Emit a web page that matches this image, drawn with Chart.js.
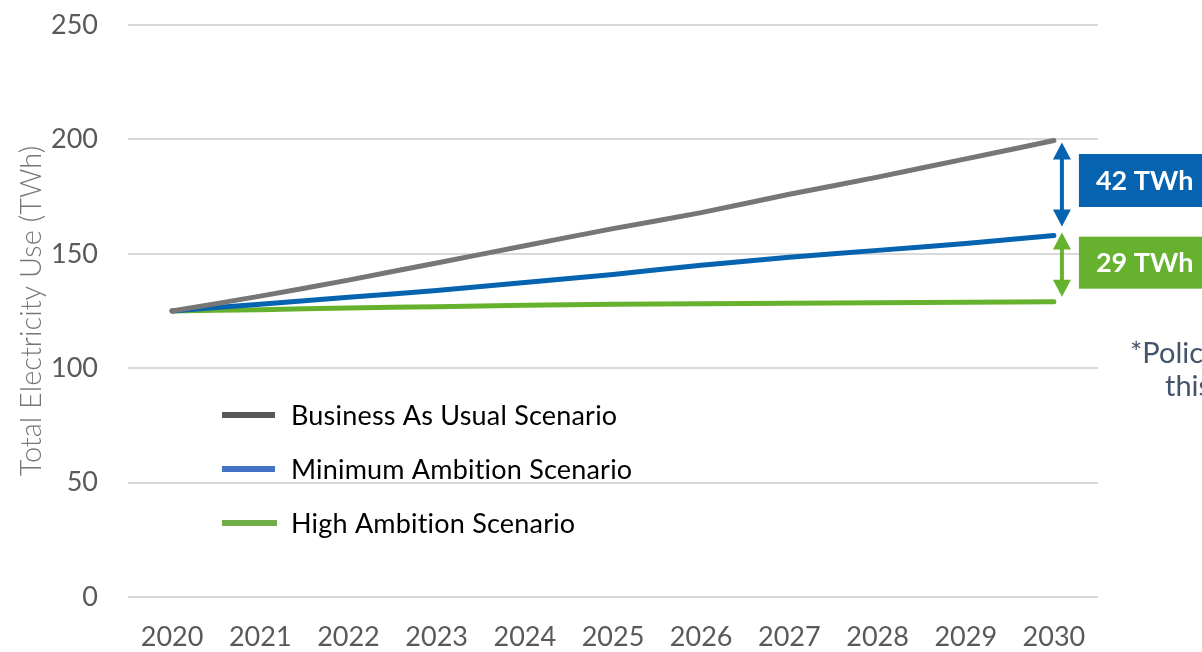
<!DOCTYPE html>
<html>
<head>
<meta charset="utf-8">
<script src="https://cdn.jsdelivr.net/npm/chart.js@4/dist/chart.umd.min.js"></script>
<style>
  html, body { margin: 0; padding: 0; background: #fff; }
</style>
</head>
<body>
<canvas id="myChart" width="1202" height="652"></canvas>
<script>
// yearly projections, TWh
var years = ['2020', '2021', '2022', '2023', '2024', '2025', '2026', '2027', '2028', '2029', '2030'];
var businessAsUsual = [125, 131.5, 138.5, 146, 153.5, 161, 168, 176, 183.5, 191.5, 199.5];
var minimumAmbition = [125, 128, 131, 134, 137.5, 141, 145, 148.5, 151.5, 154.5, 158];
var highAmbition = [125, 125.6, 126.3, 126.9, 127.5, 128, 128.2, 128.4, 128.6, 128.8, 129];
var seriesNames = ['Business As Usual Scenario', 'Minimum Ambition Scenario', 'High Ambition Scenario'];
var yTicks = [0, 50, 100, 150, 200, 250];

const lineColors = ['#767676', '#0563b0', '#66b22e'];
const keyColors = ['#595959', '#4472c4', '#70ad47'];
const FONT = 'Lato, "Open Sans", sans-serif';

// legend drawn inside the plot area
const insideLegend = {
  id: 'insideLegend',
  afterDatasetsDraw(chart) {
    const ctx = chart.ctx;
    const a = chart.chartArea;
    const x0 = a.left + 94;
    ctx.save();
    ctx.font = '27px ' + FONT;
    ctx.letterSpacing = '0.2px';
    ctx.textBaseline = 'middle';
    chart.data.datasets.forEach(function (ds, i) {
      const y = a.top + 390 + i * 54;
      ctx.fillStyle = '#fff';
      ctx.fillRect(x0, y - 4, 56, 14);
      ctx.fillStyle = keyColors[i];
      ctx.fillRect(x0, y - 3, 53 + (i == 2 ? 2 : 0), 6);
      ctx.fillStyle = '#000';
      ctx.fillText(ds.label, x0 + 69, y + 1);
    });
    ctx.restore();
  }
};

function arrow(ctx, x, y1, y2, color) {
  const hw = 9, hl = 17;
  ctx.fillStyle = color;
  ctx.strokeStyle = color;
  ctx.lineWidth = 4;
  ctx.beginPath();
  ctx.moveTo(x, y1 + hl - 2);
  ctx.lineTo(x, y2 - hl + 2);
  ctx.stroke();
  ctx.beginPath();
  ctx.moveTo(x, y1);
  ctx.lineTo(x - hw, y1 + hl);
  ctx.lineTo(x + hw, y1 + hl);
  ctx.closePath();
  ctx.fill();
  ctx.beginPath();
  ctx.moveTo(x, y2);
  ctx.lineTo(x - hw, y2 - hl);
  ctx.lineTo(x + hw, y2 - hl);
  ctx.closePath();
  ctx.fill();
}

// gap arrows and value boxes at the last year
const gapNotes = {
  id: 'gapNotes',
  afterDraw(chart) {
    const ctx = chart.ctx;
    const xs = chart.scales.x, ys = chart.scales.y;
    const last = years.length - 1;
    const x = xs.getPixelForValue(last) + 8;
    const yB = ys.getPixelForValue(businessAsUsual[last]);
    const yM = ys.getPixelForValue(minimumAmbition[last]);
    const yH = ys.getPixelForValue(highAmbition[last]);
    const gap1 = Math.round(businessAsUsual[last] - minimumAmbition[last]);
    const gap2 = Math.round(minimumAmbition[last] - highAmbition[last]);
    ctx.save();
    arrow(ctx, x, yB + 2, yM - 9, lineColors[1]);
    arrow(ctx, x, yM - 3, yH - 5, lineColors[2]);

    ctx.font = 'bold 27px ' + FONT;
    ctx.textBaseline = 'middle';
    const bx = x + 17;
    const c1 = (yB + yM) / 2 - 8, c2 = (yM + yH) / 2 - 6;
    ctx.fillStyle = lineColors[1];
    ctx.fillRect(bx, c1 - 26, 140, 53);
    ctx.fillStyle = lineColors[2];
    ctx.fillRect(bx, c2 - 26, 140, 52);
    ctx.fillStyle = '#fff';
    ctx.fillText(gap1 + ' TWh', bx + 17, c1 + 1);
    ctx.fillText(gap2 + ' TWh', bx + 17, c2 + 1);

    ctx.font = '29px ' + FONT;
    ctx.fillStyle = '#44546a';
    ctx.textBaseline = 'alphabetic';
    ctx.fillText('*Policies', 1130, 363);
    ctx.fillText('this', 1165, 396);
    ctx.restore();
  }
};

var ctx = document.getElementById('myChart');
var myChart = new Chart(ctx, {
  type: 'line',
  data: {
    labels: years,
    datasets: [
      { label: seriesNames[0], data: businessAsUsual, borderColor: lineColors[0] },
      { label: seriesNames[1], data: minimumAmbition, borderColor: lineColors[1] },
      { label: seriesNames[2], data: highAmbition, borderColor: lineColors[2] }
    ].map(function (d) {
      return Object.assign(d, { borderWidth: 5, pointRadius: 0, borderCapStyle: 'round', tension: 0.2, fill: false });
    })
  },
  options: {
    responsive: false,
    animation: false,
    layout: { padding: { top: 25, right: 104, bottom: 0, left: 14 } },
    plugins: {
      legend: { display: false },
      tooltip: { enabled: false }
    },
    scales: {
      x: {
        offset: true,
        grid: { display: false },
        border: { display: false },
        ticks: { color: '#595959', font: { family: FONT, size: 27 }, padding: 16, maxRotation: 0 },
        afterFit: function (scale) { scale.height = 55; }
      },
      y: {
        min: 0,
        max: 250,
        afterBuildTicks: function (axis) {
          axis.ticks = yTicks.map(function (v) { return { value: v }; });
        },
        afterFit: function (scale) {
          scale.width = 114;
          scale.paddingTop = 0;
          scale.paddingBottom = 0;
        },
        grid: { color: '#d9d9d9', lineWidth: 2, drawTicks: false },
        border: { display: false },
        ticks: { color: '#595959', font: { family: FONT, size: 27 }, padding: 30 },
        title: {
          display: true,
          text: 'Total Electricity Use (TWh)',
          color: '#767676',
          font: { family: FONT, size: 29, weight: 300 },
          padding: { top: 0, bottom: 0 }
        }
      }
    }
  },
  plugins: [insideLegend, gapNotes]
});
</script>
</body>
</html>
